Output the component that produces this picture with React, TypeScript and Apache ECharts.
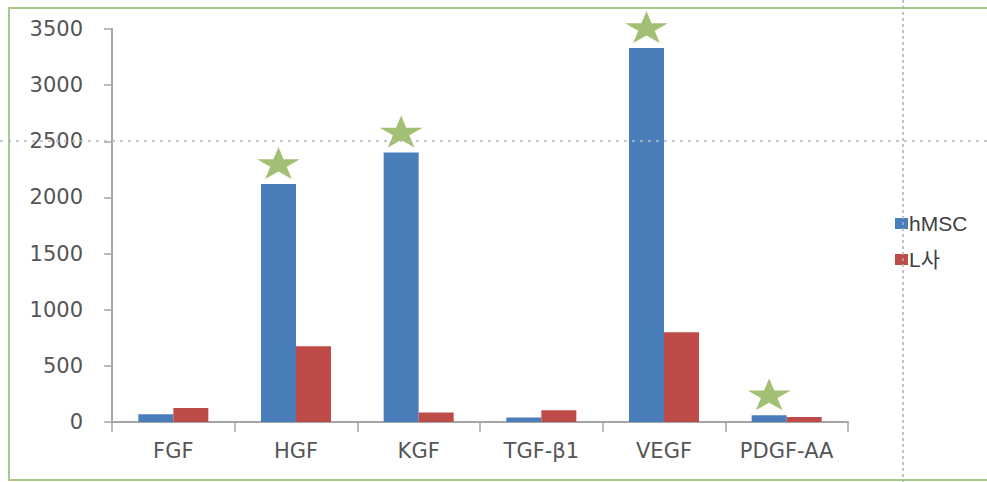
import React, { useEffect, useRef } from "react";
import * as echarts from "echarts";

const categories = ["FGF", "HGF", "KGF", "TGF-β1", "VEGF", "PDGF-AA"];
const hMSC = [70, 2120, 2400, 40, 3330, 60];
const companyL = [125, 675, 85, 105, 800, 45];
const starred = [false, true, true, false, true, true];
const seriesNames = ["hMSC", "L사"];
const yTicks = { min: 0, max: 3500, interval: 500 };

const STAR =
  "path://M50 0 L61.23 34.55 L97.55 34.55 L68.17 55.9 L79.39 90.45 L50 69.1 L20.61 90.45 L31.83 55.9 L2.45 34.55 L38.77 34.55 Z";

export default function App() {
  const ref = useRef<HTMLDivElement>(null);
  useEffect(() => {
    if (!ref.current) return;
    const chart = echarts.init(ref.current, undefined, { renderer: "svg" });
    const font = "'DejaVu Sans', Verdana, sans-serif";
    const barW = 35;
    chart.setOption({
      animation: false,
      backgroundColor: "#ffffff",
      grid: { left: 112, right: 139, top: 29, bottom: 60, containLabel: false },
      legend: {
        orient: "vertical",
        left: 890,
        top: 208,
        itemWidth: 13,
        itemHeight: 11,
        itemGap: 15,
        icon: "rect",
        data: seriesNames,
        textStyle: {
          fontFamily: "'Liberation Sans', 'Noto Sans CJK KR', sans-serif",
          fontSize: 21,
          color: "#404040",
          padding: [5, 0, 0, -4],
        },
      },
      xAxis: {
        type: "category",
        data: categories,
        axisLine: { lineStyle: { color: "#a6a6a6", width: 2 } },
        axisTick: { show: true, length: 10, lineStyle: { color: "#a6a6a6", width: 1.5 } },
        axisLabel: { color: "#555555", fontFamily: font, fontSize: 21, margin: 18 },
        splitLine: { show: false },
      },
      yAxis: {
        type: "value",
        min: yTicks.min,
        max: yTicks.max,
        interval: yTicks.interval,
        axisLine: { show: true, lineStyle: { color: "#a6a6a6", width: 2 } },
        axisTick: { show: true, length: 8, lineStyle: { color: "#a6a6a6", width: 1.5 } },
        axisLabel: {
          color: "#555555",
          fontFamily: font,
          fontSize: 21,
          margin: 29,
          formatter: (v: number) => String(v),
        },
        splitLine: { show: false },
      },
      series: [
        {
          name: seriesNames[0],
          type: "bar",
          data: hMSC,
          barWidth: barW,
          barGap: "0%",
          itemStyle: { color: "#4A7EBB" },
        },
        {
          name: seriesNames[1],
          type: "bar",
          data: companyL,
          barWidth: barW,
          barGap: "0%",
          itemStyle: { color: "#BE4B48" },
        },
        {
          name: "star",
          type: "scatter",
          data: hMSC.map((v, i) => (starred[i] ? v : null)),
          symbol: STAR,
          symbolSize: [43, 32],
          symbolKeepAspect: false,
          symbolOffset: [-barW / 2, -21],
          itemStyle: { color: "#8BB050" },
          clip: false,
          z: 5,
        },
      ],
      graphic: [
        {
          type: "rect",
          shape: { x: 9, y: 8, width: 1000, height: 472 },
          style: { fill: "none", stroke: "#A9C98A", lineWidth: 2 },
          silent: true,
          z: 100,
        },
        {
          type: "line",
          shape: { x1: 0, y1: 141, x2: 987, y2: 141 },
          style: { stroke: "#b8b8b8", lineWidth: 2, lineDash: [3, 5], opacity: 0.8 },
          silent: true,
          z: 100,
        },
        {
          type: "line",
          shape: { x1: 903, y1: 0, x2: 903, y2: 482 },
          style: { stroke: "#b0b0b0", lineWidth: 1.5, lineDash: [3, 3] },
          silent: true,
          z: 100,
        },
      ],
    });
    return () => chart.dispose();
  }, []);
  return (
    <div
      ref={ref}
      style={{ position: "fixed", left: 0, top: 0, width: 987, height: 482 }}
    />
  );
}
